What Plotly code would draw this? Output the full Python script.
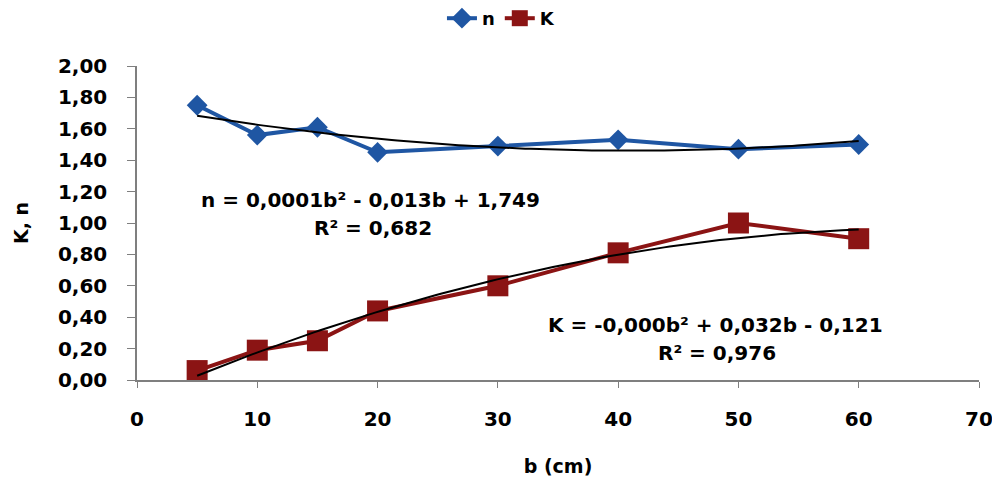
import numpy as np
import plotly.graph_objects as go

b_vals = [5, 10, 15, 20, 30, 40, 50, 60]
n_vals = [1.75, 1.56, 1.61, 1.45, 1.49, 1.53, 1.47, 1.50]
k_vals = [0.06, 0.19, 0.25, 0.44, 0.60, 0.81, 1.00, 0.90]
y_ticks = [0.0, 0.2, 0.4, 0.6, 0.8, 1.0, 1.2, 1.4, 1.6, 1.8, 2.0]
y_tick_text = [f"{v:.2f}".replace(".", ",") for v in y_ticks]
x_ticks = [0, 10, 20, 30, 40, 50, 60, 70]

BLUE = "#1F56A3"
RED = "#8B1414"
FONT = "DejaVu Sans"

bx = np.array(b_vals, dtype=float)
xs = np.linspace(bx.min(), bx.max(), 120)
n_fit = np.polyval(np.polyfit(bx, n_vals, 2), xs)
k_fit = np.polyval(np.polyfit(bx, k_vals, 2), xs)

fig = go.Figure()
fig.add_trace(go.Scatter(x=b_vals, y=n_vals, mode="lines+markers", name="n",
                         line=dict(color=BLUE, width=4),
                         marker=dict(symbol="diamond", size=16, color=BLUE)))
fig.add_trace(go.Scatter(x=b_vals, y=k_vals, mode="lines+markers", name="K",
                         line=dict(color=RED, width=4),
                         marker=dict(symbol="square", size=21, color=RED)))
fig.add_trace(go.Scatter(x=xs, y=n_fit, mode="lines", showlegend=False,
                         line=dict(color="black", width=2)))
fig.add_trace(go.Scatter(x=xs, y=k_fit, mode="lines", showlegend=False,
                         line=dict(color="black", width=2)))

ann_font = dict(family=FONT, size=20, color="black", weight="bold")
fig.add_annotation(x=19.4, y=1.146, xref="x", yref="y", showarrow=False,
                   text="n = 0,0001b² - 0,013b + 1,749", font=ann_font)
fig.add_annotation(x=19.6, y=0.968, xref="x", yref="y", showarrow=False,
                   text="R² = 0,682", font=ann_font)
fig.add_annotation(x=48.1, y=0.35, xref="x", yref="y", showarrow=False,
                   text="K = -0,000b² + 0,032b - 0,121", font=ann_font)
fig.add_annotation(x=48.2, y=0.172, xref="x", yref="y", showarrow=False,
                   text="R² = 0,976", font=ann_font)

tick_font = dict(family=FONT, size=20, color="black", weight="bold")
fig.update_layout(
    width=992, height=483,
    margin=dict(l=137, r=13, t=66, b=103, autoexpand=False),
    paper_bgcolor="white", plot_bgcolor="white",
    font=dict(family=FONT, color="black"),
    legend=dict(orientation="h", x=0.505, xref="container", xanchor="center",
                y=1.0, yref="container", yanchor="top",
                font=dict(family=FONT, size=18, color="black", weight="bold"),
                bgcolor="rgba(0,0,0,0)"),
    xaxis=dict(range=[0, 70], tickvals=x_ticks, ticktext=[str(v) for v in x_ticks],
               showgrid=False, zeroline=False, showline=True, linecolor="#7f7f7f",
               linewidth=1.5, ticks="outside", ticklen=6, tickcolor="#7f7f7f",
               ticklabelstandoff=14, ticklabeloverflow="allow",
               tickfont=tick_font, title=dict(text="b (cm)", standoff=30,
               font=dict(family=FONT, size=19, color="black", weight="bold"))),
    yaxis=dict(range=[0, 2.0], tickvals=y_ticks, ticktext=y_tick_text,
               showgrid=False, zeroline=False, showline=True, linecolor="#7f7f7f",
               linewidth=1.5, ticks="outside", ticklen=8, tickcolor="#7f7f7f",
               ticklabelstandoff=16, ticklabeloverflow="allow",
               tickfont=tick_font, title=dict(text="K, n", standoff=24,
               font=dict(family=FONT, size=19, color="black", weight="bold"))),
)

fig.write_html("out.html", config={"displayModeBar": False},
               post_script="document.body.style.margin='0';document.body.style.overflow='hidden';")
